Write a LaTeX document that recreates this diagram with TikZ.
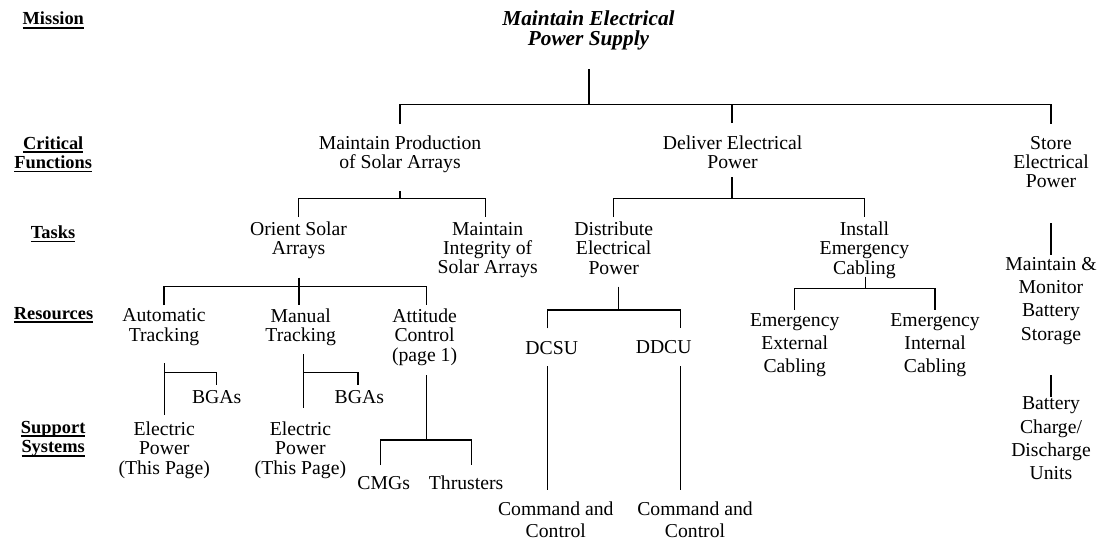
\documentclass[tikz,border=0pt]{standalone}
\usepackage{fontspec}
\setmainfont{Liberation Serif}
% fixed line struts so that every node's north edge sits 14.5pt above its first baseline
\newcommand\Ls{\rule[-4pt]{0pt}{14.5pt}}
\newcommand\Lt{\rule[-4pt]{0pt}{15pt}}
% underline drawn as a plain rule just below the baseline
\newcommand\undl[1]{\setbox0\hbox{#1}\rlap{\rule[-3.8pt]{\wd0}{1.6pt}}\box0}
\begin{document}
\begin{tikzpicture}[x=1pt,y=-1pt,
  every node/.style={inner sep=0pt, outer sep=0pt, anchor=north, align=center},
  txt/.style={font=\fontsize{19.7}{#1}\selectfont},
  txt/.default=19.2,
  lbl/.style={font=\fontsize{18.4}{#1}\selectfont\bfseries},
  lbl/.default=19.3,
  link/.style={line width=1.3pt}]
\useasboundingbox (0,0) rectangle (1099,543);

% ---- level labels on the left
\node[lbl] (lmission) at (53.3,12) {\Ls\undl{Mission}};
\node[lbl] (lcrit) at (53.2,136.5) {\Ls\undl{Critical}\\\Ls\undl{Functions}};
\node[lbl] (ltasks) at (53,225.8) {\Ls\undl{Tasks}};
\node[lbl] (lres) at (53.5,307) {\Ls\undl{Resources}};
\node[lbl=19.8] (lsupp) at (53.2,421) {\Ls\undl{Support}\\\Ls\undl{Systems}};

% ---- mission
\node[font=\fontsize{21.3}{19.5}\selectfont\bfseries\itshape] (title) at (588.5,11)
  {\Lt Maintain Electrical\\\Lt Power Supply};

% ---- critical functions
\node[txt=19.3] (prod) at (400,136) {\Ls Maintain Production\\\Ls of Solar Arrays};
\node[txt=19.3] (deliver) at (732.5,136) {\Ls Deliver Electrical\\\Ls Power};
\node[txt=18.8] (store) at (1051,136.5) {\Ls Store\\\Ls Electrical\\\Ls Power};

% ---- tasks
\node[txt=19] (orient) at (298.6,222) {\Ls Orient Solar\\\Ls Arrays};
\node[txt=19] (integ) at (487.7,222) {\Ls Maintain\\\Ls Integrity of\\\Ls Solar Arrays};
\node[txt] (distrib) at (613.7,222) {\Ls Distribute\\\Ls Electrical\\\Ls Power};
\node[txt] (install) at (864.4,222) {\Ls Install\\\Ls Emergency\\\Ls Cabling};
\node[txt=23.3] (maint) at (1051,257.2) {\Ls Maintain \&\\\Ls Monitor\\\Ls Battery\\\Ls Storage};

% ---- resources
\node[txt=19.3] (auto) at (164,308.7) {\Ls Automatic\\\Ls Tracking};
\node[txt=19.3] (manual) at (300.7,308.7) {\Ls Manual\\\Ls Tracking};
\node[txt=19.5] (attit) at (424.6,308.7) {\Ls Attitude\\\Ls Control\\\Ls (page 1)};
\node[txt] (dcsu) at (551.7,341.5) {\Ls DCSU};
\node[txt] (ddcu) at (663.7,340.5) {\Ls DDCU};
\node[txt=22.8] (ext) at (794.7,313.7) {\Ls Emergency\\\Ls External\\\Ls Cabling};
\node[txt=22.8] (int) at (935.1,313.7) {\Ls Emergency\\\Ls Internal\\\Ls Cabling};

% ---- support systems
\node[txt] (bga1) at (216.7,390.3) {\Ls BGAs};
\node[txt] (bga2) at (359.3,390.3) {\Ls BGAs};
\node[txt] (elec1) at (164.2,422) {\Ls Electric\\\Ls Power\\\Ls (This Page)};
\node[txt] (elec2) at (300.4,422) {\Ls Electric\\\Ls Power\\\Ls (This Page)};
\node[txt] (cmg) at (383.7,476) {\Ls CMGs};
\node[txt] (thr) at (466.1,476) {\Ls Thrusters};
\node[txt=23.3] (batt) at (1051,397) {\Ls Battery\\\Ls Charge/\\\Ls Discharge\\\Ls Units};
\node[txt=21.8] (cmd1) at (555.8,502.2) {\Ls Command and\\\Ls Control};
\node[txt=21.8] (cmd2) at (695,502.2) {\Ls Command and\\\Ls Control};

% ---- connector end points
\coordinate (title-out) at (589,69);
\coordinate (top-bar) at (589,104.5);
\coordinate (prod-in) at (400,124);
\coordinate (deliver-in) at (732,123);
\coordinate (store-in) at (1051,124);

\coordinate (prod-out) at (400,191);
\coordinate (prod-bar) at (400,198.3);
\coordinate (orient-in) at (298.5,217);
\coordinate (integ-in) at (485.5,217);

\coordinate (deliver-out) at (732,177);
\coordinate (deliver-bar) at (732,198.3);
\coordinate (distrib-in) at (613.5,217);
\coordinate (install-in) at (864.7,217);

\coordinate (store-out) at (1051,223.3);
\coordinate (maint-in) at (1051,255);

\coordinate (orient-out) at (299,277.5);
\coordinate (orient-bar) at (299,286.5);
\coordinate (auto-in) at (164,305);
\coordinate (manual-in) at (299,305);
\coordinate (attit-in) at (426.3,305);

\coordinate (auto-out) at (164.6,363.3);
\coordinate (auto-j) at (164.6,372.3);
\coordinate (bga1-in) at (216.5,385);
\coordinate (elec1-in) at (164.6,415);

\coordinate (manual-out) at (303.5,354.3);
\coordinate (manual-j) at (303.5,372.3);
\coordinate (bga2-in) at (357.9,385);
\coordinate (elec2-in) at (303.5,408.3);

\coordinate (attit-out) at (426.3,375);
\coordinate (attit-bar) at (426.3,440);
\coordinate (cmg-in) at (380.7,465);
\coordinate (thr-in) at (471.2,465);

\coordinate (distrib-out) at (618.3,286.7);
\coordinate (distrib-bar) at (618.3,310);
\coordinate (dcsu-in) at (547.7,328.3);
\coordinate (ddcu-in) at (680.7,328.3);
\coordinate (dcsu-out) at (547.7,366);
\coordinate (cmd1-in) at (547.7,490);
\coordinate (ddcu-out) at (680.7,366);
\coordinate (cmd2-in) at (680.7,490);

\coordinate (install-out) at (865.8,276.7);
\coordinate (install-bar) at (865.8,288.3);
\coordinate (ext-in) at (794.6,310);
\coordinate (int-in) at (934.9,310);

\coordinate (maint-out) at (1051,375);
\coordinate (batt-in) at (1051,396.7);

% ---- connectors
\draw[link] (title-out) -- (top-bar);
\draw[link] (prod-in) |- (top-bar) -| (store-in);
\draw[link] (deliver-in) -- (deliver-in |- top-bar);

\draw[link] (prod-out) -- (prod-bar);
\draw[link] (orient-in) |- (prod-bar) -| (integ-in);

\draw[link] (deliver-out) -- (deliver-bar);
\draw[link] (distrib-in) |- (deliver-bar) -| (install-in);

\draw[link] (store-out) -- (maint-in);

\draw[link] (orient-out) -- (manual-in);
\draw[link] (auto-in) |- (orient-bar) -| (attit-in);

\draw[link] (auto-out) -- (elec1-in);
\draw[link] (auto-j) -| (bga1-in);

\draw[link] (manual-out) -- (elec2-in);
\draw[link] (manual-j) -| (bga2-in);

\draw[link] (attit-out) -- (attit-bar);
\draw[link] (cmg-in) |- (attit-bar) -| (thr-in);

\draw[link] (distrib-out) -- (distrib-bar);
\draw[link] (dcsu-in) |- (distrib-bar) -| (ddcu-in);
\draw[link] (dcsu-out) -- (cmd1-in);
\draw[link] (ddcu-out) -- (cmd2-in);

\draw[link] (install-out) -- (install-bar);
\draw[link] (ext-in) |- (install-bar) -| (int-in);

\draw[link] (maint-out) -- (batt-in);
\end{tikzpicture}
\end{document}
